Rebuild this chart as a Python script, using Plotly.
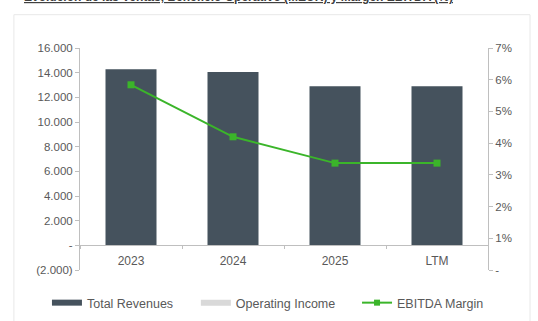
import plotly.graph_objects as go

# data
categories = ["2023", "2024", "2025", "LTM"]
total_revenues = [14270, 14050, 12890, 12890]   # MEUR
ebitda_margin = [0.0584, 0.042, 0.0337, 0.0337]  # fraction

left_ticks = [-2000, 0, 2000, 4000, 6000, 8000, 10000, 12000, 14000, 16000]
left_labels = ["(2.000)", "-", "2.000", "4.000", "6.000", "8.000",
               "10.000", "12.000", "14.000", "16.000"]
right_ticks = [0, 0.01, 0.02, 0.03, 0.04, 0.05, 0.06, 0.07]
right_labels = ["-", "1%", "2%", "3%", "4%", "5%", "6%", "7%"]

title_text = "Evolución de las Ventas, Beneficio Operativo (MEUR) y Margen EBITDA (%)"

BAR = "#45525d"
GREEN = "#3bb52a"
AXIS = "#bfbfbf"
TXT = "#595959"

fig = go.Figure()

# bars
fig.add_trace(go.Bar(
    x=categories, y=total_revenues, name="Total Revenues",
    marker=dict(color=BAR, line=dict(width=0)), showlegend=False,
))

# EBITDA margin line on the right axis
fig.add_trace(go.Scatter(
    x=categories, y=ebitda_margin, yaxis="y2", name="EBITDA Margin",
    mode="lines+markers", line=dict(color=GREEN, width=2),
    marker=dict(symbol="square", size=7, color=GREEN), showlegend=False,
))

# legend-only entries, one legend each so they can be spaced like the original
fig.add_trace(go.Scatter(x=[None], y=[None], mode="lines", name="Total Revenues",
                         line=dict(color=BAR, width=6), legend="legend"))
fig.add_trace(go.Scatter(x=[None], y=[None], mode="lines", name="Operating Income",
                         line=dict(color="#d9d9d9", width=6), legend="legend2"))
fig.add_trace(go.Scatter(x=[None], y=[None], mode="lines+markers", name="EBITDA Margin",
                         line=dict(color=GREEN, width=2),
                         marker=dict(symbol="square", size=6, color=GREEN),
                         legend="legend3"))

y_min, y_max = left_ticks[0], left_ticks[-1]
zero_pos = (0 - y_min) / (y_max - y_min)

legend_style = dict(
    orientation="h", yref="container", y=0.056, yanchor="middle", xanchor="left",
    font=dict(size=12.5, color=TXT), bgcolor="rgba(0,0,0,0)",
)

fig.update_layout(
    width=538, height=321,
    margin=dict(l=80, r=50, t=48, b=51, autoexpand=False),
    paper_bgcolor="white", plot_bgcolor="white",
    font=dict(family="Liberation Sans, Arial, sans-serif", size=11, color=TXT),
    bargap=0.5,
    xaxis=dict(
        anchor="free", position=zero_pos,
        showline=True, linecolor=AXIS, linewidth=1,
        ticks="outside", tickson="boundaries", ticklen=3, tickcolor=AXIS,
        showgrid=False, zeroline=False, ticklabelstandoff=4,
        tickfont=dict(size=12, color=TXT),
    ),
    yaxis=dict(
        range=[y_min, y_max], tickvals=left_ticks, ticktext=left_labels,
        showline=True, linecolor=AXIS, linewidth=1,
        ticks="outside", ticklen=4, tickcolor=AXIS,
        showgrid=False, zeroline=False,
        tickfont=dict(size=11.5, color=TXT),
    ),
    yaxis2=dict(
        overlaying="y", side="right",
        range=[right_ticks[0], right_ticks[-1]],
        tickvals=right_ticks, ticktext=right_labels,
        showline=True, linecolor=AXIS, linewidth=1,
        ticks="outside", ticklen=4, tickcolor=AXIS,
        showgrid=False, zeroline=False,
        tickfont=dict(size=11.5, color=TXT),
    ),
    legend=dict(x=-0.081, **legend_style),
    legend2=dict(x=0.284, **legend_style),
    legend3=dict(x=0.679, **legend_style),
    shapes=[dict(
        type="rect", xref="paper", yref="paper",
        x0=-0.162, x1=1.103, y0=-0.4, y1=1.15,
        line=dict(color="#e8e8e8", width=1), layer="below",
    )],
    annotations=[dict(
        text="<b><u>" + title_text + "</u></b>",
        xref="paper", yref="paper", x=-0.142, xanchor="left",
        y=1.19, yanchor="bottom", showarrow=False,
        font=dict(size=12, color="#404040"),
    )],
)

# the page body has a default 8px margin; drop it so the figure sits at 0,0
fig.write_html("out.html", config={"displayModeBar": False},
               post_script="document.body.style.margin='0';")
